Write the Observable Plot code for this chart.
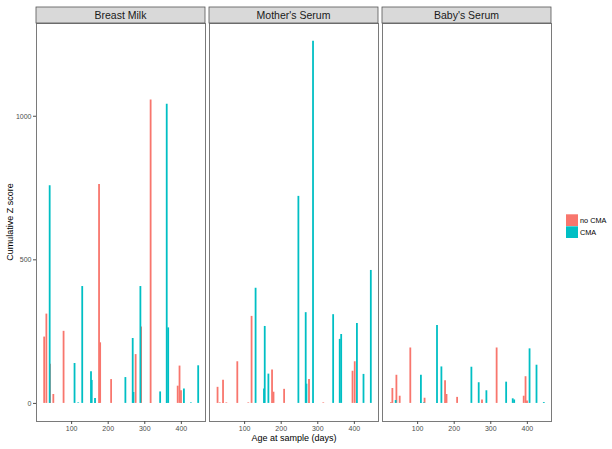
<!DOCTYPE html>
<html>
<head>
<meta charset="utf-8">
<script src="https://cdn.jsdelivr.net/npm/d3@7"></script>
<script src="https://cdn.jsdelivr.net/npm/@observablehq/plot@0.6"></script>
<style>
  html, body { margin: 0; padding: 0; background: #fff; }
  #chart { width: 612px; height: 449px; }
</style>
</head>
<body>
<div id="chart"></div>
<script>
const panels = ["Breast Milk", "Mother's Serum", "Baby's Serum"];
const groups = ["no CMA", "CMA"];
const xTicks = [100, 200, 300, 400];
const yTicks = [0, 500, 1000];

// Breast Milk
const milkNoAges = [25, 31, 41, 50, 78, 175, 178, 208, 275, 290, 316, 390, 395, 399];
const milkNoVals = [231, 311, 136, 31, 251, 762, 211, 83, 170, 266, 1057, 60, 130, 44];
const milkCmaAges = [40, 108, 118, 129, 153, 155, 164, 247, 267, 269, 288, 342, 360, 364, 407, 426, 446];
const milkCmaVals = [758, 139, 2, 407, 110, 80, 17, 90, 226, 38, 407, 40, 1042, 263, 50, 2, 131];

// Mother's Serum
const motherNoAges = [26, 32, 41, 50, 80, 110, 119, 175, 179, 208, 276, 315, 395, 401];
const motherNoVals = [56, 2, 81, 2, 145, 2, 303, 116, 39, 49, 83, 2, 112, 145];
const motherCmaAges = [130, 153, 155, 165, 247, 267, 269, 287, 342, 360, 364, 407, 425, 445];
const motherCmaVals = [401, 50, 268, 102, 721, 316, 67, 1261, 309, 223, 240, 278, 101, 463];

// Baby's Serum
const babyNoAges = [27, 31, 42, 51, 80, 119, 175, 179, 208, 276, 316, 390, 395, 399];
const babyNoVals = [2, 52, 98, 25, 193, 18, 79, 31, 21, 12, 193, 25, 93, 8];
const babyCmaAges = [40, 109, 117, 153, 165, 247, 267, 288, 342, 360, 364, 406, 425, 445];
const babyCmaVals = [10, 98, 2, 271, 127, 126, 72, 44, 74, 16, 12, 190, 133, 3];

function rows(panel, group, ages, vals) {
  return ages.map((a, i) => ({panel, group, age: a, value: vals[i]}));
}
const data = [
  ...rows(panels[0], groups[0], milkNoAges, milkNoVals),
  ...rows(panels[0], groups[1], milkCmaAges, milkCmaVals),
  ...rows(panels[1], groups[0], motherNoAges, motherNoVals),
  ...rows(panels[1], groups[1], motherCmaAges, motherCmaVals),
  ...rows(panels[2], groups[0], babyNoAges, babyNoVals),
  ...rows(panels[2], groups[1], babyCmaAges, babyCmaVals)
];

const colors = ["#F8766D", "#00BFC4"];
const font = "'Liberation Sans', Arial, Helvetica, sans-serif";
const W = 612, H = 449, mL = 36, mR = 60, mT = 23, mB = 28;

const chart = Plot.plot({
  width: W, height: H,
  marginLeft: mL, marginRight: mR, marginTop: mT, marginBottom: mB,
  style: {fontFamily: font, background: "white", overflow: "visible"},
  fx: {domain: panels, paddingInner: 0.023, paddingOuter: 0, axis: null, label: null},
  x: {domain: [4, 466], label: null},
  y: {domain: [-63, 1323], label: null},
  color: {domain: groups, range: colors},
  marks: [
    Plot.ruleX(data, {fx: "panel", x: "age", y1: 0, y2: "value", stroke: "group", strokeWidth: 1.8}),
    Plot.frame({stroke: "#7a7a7a", strokeWidth: 1}),
    Plot.axisX({ticks: xTicks, tickFormat: d => String(d), tickSize: 3, tickPadding: 2, fontSize: 7, color: "#4d4d4d", label: null}),
    Plot.axisY({ticks: yTicks, tickFormat: d => String(d), tickSize: 3, tickPadding: 2, fontSize: 7, color: "#4d4d4d", label: null})
  ]
});

document.getElementById("chart").appendChild(chart);

// facet strips, axis titles, legend
const svg = d3.select(chart);
const fx = chart.scale("fx");
const bw = fx.bandwidth;
const g = svg.append("g");
panels.forEach(p => {
  const x0 = fx.apply(p);
  g.append("rect").attr("x", x0).attr("y", 7).attr("width", bw).attr("height", mT - 7)
    .attr("fill", "#d9d9d9").attr("stroke", "#555").attr("stroke-width", 0.8);
  g.append("text").attr("x", x0 + bw / 2).attr("y", 15).attr("dy", "0.35em")
    .attr("text-anchor", "middle").attr("font-size", 10.5).attr("fill", "#1a1a1a")
    .attr("font-family", font).text(p);
});
g.append("text")
  .attr("transform", `translate(10,${(mT + H - mB) / 2}) rotate(-90)`)
  .attr("text-anchor", "middle").attr("dy", "0.35em").attr("font-size", 9)
  .attr("font-family", font).attr("fill", "#000").text("Cumulative Z score");
g.append("text")
  .attr("x", (mL + W - mR) / 2).attr("y", 438).attr("dy", "0.35em")
  .attr("text-anchor", "middle").attr("font-size", 9)
  .attr("font-family", font).attr("fill", "#000").text("Age at sample (days)");

const lg = svg.append("g").attr("transform", "translate(566,214.3)");
groups.forEach((grp, i) => {
  lg.append("rect").attr("x", 0).attr("y", i * 12).attr("width", 12).attr("height", 11.7)
    .attr("fill", colors[i]);
  lg.append("text").attr("x", 14).attr("y", i * 12 + 6).attr("dy", "0.35em")
    .attr("text-anchor", "start")
    .attr("font-size", 7.3).attr("font-family", font).attr("fill", "#000").text(grp);
});
</script>
</body>
</html>
